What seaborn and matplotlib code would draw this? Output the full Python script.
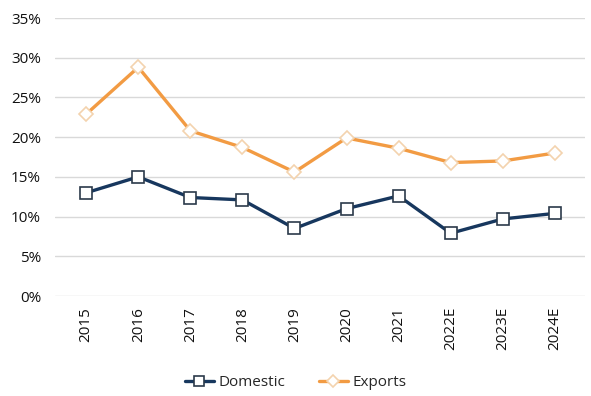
import matplotlib
matplotlib.use("Agg")
import matplotlib.pyplot as plt
import seaborn as sns
import pandas as pd
from matplotlib.ticker import FuncFormatter, MultipleLocator

years = ["2015", "2016", "2017", "2018", "2019", "2020", "2021", "2022E", "2023E", "2024E"]
domestic = [13.0, 15.0, 12.4, 12.1, 8.5, 11.0, 12.6, 7.9, 9.7, 10.4]
exports = [22.9, 28.8, 20.8, 18.7, 15.6, 19.9, 18.6, 16.8, 17.0, 18.0]

df = pd.DataFrame({"Year": years * 2,
                   "Value": domestic + exports,
                   "Series": ["Domestic"] * len(years) + ["Exports"] * len(years)})

sns.set_theme(style="white")
plt.rcParams['font.family'] = ['Open Sans', 'DejaVu Sans']

fig = plt.figure(figsize=(5.91, 3.96), dpi=100)
ax = fig.add_axes([55/591, 1-296/396, 530/591, 278/396])

navy = "#17375E"
orange = "#F29B43"

sns.lineplot(data=df[df.Series == "Domestic"], x="Year", y="Value", ax=ax,
             color=navy, linewidth=2.4, marker="s", markersize=8,
             markerfacecolor="white", markeredgecolor="#2B3A4A", markeredgewidth=1.2,
             label="Domestic", sort=False, zorder=3)
sns.lineplot(data=df[df.Series == "Exports"], x="Year", y="Value", ax=ax,
             color=orange, linewidth=2.4, marker="D", markersize=7.5,
             markerfacecolor="white", markeredgecolor="#F3D3AE", markeredgewidth=1.2,
             label="Exports", sort=False, zorder=3)

ax.set_ylim(0, 35)
ax.set_xlim(-0.6, 9.58)
ax.yaxis.set_major_locator(MultipleLocator(5))
ax.yaxis.set_major_formatter(FuncFormatter(lambda v, p: f"{v:.0f}%"))
ax.grid(axis="y", color="#D9D9D9", linewidth=1)
ax.grid(axis="x", visible=False)
for s in ax.spines.values():
    s.set_visible(False)
ax.set_xlabel("")
ax.set_ylabel("")
ax.tick_params(axis="both", length=0, labelsize=11, colors="#111111")
ax.tick_params(axis="y", pad=10)
ax.tick_params(axis="x", pad=8)
plt.setp(ax.get_xticklabels(), rotation=90, fontweight="medium")
plt.setp(ax.get_yticklabels(), fontweight="medium")

ax.get_legend().remove()
handles, labels = ax.get_legend_handles_labels()
leg = fig.legend(handles, labels, loc="center", bbox_to_anchor=(0.5, 1-383/396), ncol=2,
                 frameon=False, fontsize=11, handlelength=1.9, columnspacing=2.2,
                 handletextpad=0.3, markerscale=0.85)

fig.savefig("out.png", dpi=100)
